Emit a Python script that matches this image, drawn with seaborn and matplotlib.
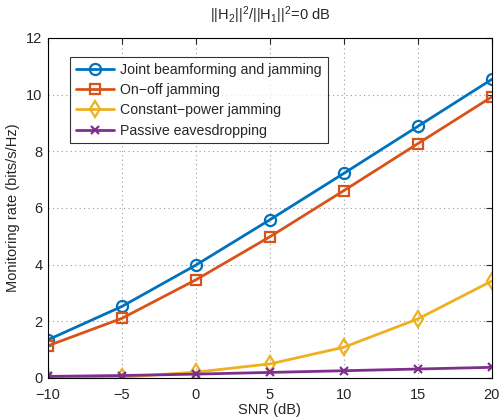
import matplotlib
matplotlib.use("Agg")
import matplotlib.pyplot as plt
import seaborn as sns
import pandas as pd

sns.set_style("white")
plt.rcParams["font.family"] = ["Liberation Sans", "DejaVu Sans"]
plt.rcParams["mathtext.fontset"] = "custom"
plt.rcParams["mathtext.rm"] = "Liberation Sans"
plt.rcParams["mathtext.it"] = "Liberation Sans"

snr = [-10, -5, 0, 5, 10, 15, 20]
joint = [1.34, 2.52, 3.98, 5.58, 7.22, 8.88, 10.54]
onoff = [1.13, 2.1, 3.46, 4.98, 6.61, 8.27, 9.92]
const_power = [0.01, 0.02, 0.2, 0.49, 1.08, 2.08, 3.42]
passive = [0.05, 0.08, 0.13, 0.19, 0.25, 0.31, 0.37]

names = ["Joint beamforming and jamming", "On\u2212off jamming",
         "Constant\u2212power jamming", "Passive eavesdropping"]
series = [joint, onoff, const_power, passive]
colors = ["#0072BD", "#D95319", "#EDB120", "#7E2F8E"]
markers = ["o", "s", "d", "x"]
msizes = [8, 7, 8, 6]

fig = plt.figure(figsize=(5.04, 4.17), dpi=100)
ax = fig.add_axes([0.095, 0.094, 0.881, 0.815])

for name, vals, c, m, ms in zip(names, series, colors, markers, msizes):
    df = pd.DataFrame({"snr": snr, "rate": vals})
    sns.lineplot(data=df, x="snr", y="rate", ax=ax, color=c, marker=m,
                 markersize=ms, mfc="none", mec=c, mew=1.6, lw=2, label=name)

ax.set_xlim(-10, 20)
ax.set_ylim(0, 12)
ax.set_xticks(snr)
ax.set_xticklabels([str(v).replace("-", "\u2212") for v in snr])
ax.set_yticks(range(0, 13, 2))
ax.grid(True, linestyle=(0, (1, 3)), color="#999999", linewidth=0.8)
ax.tick_params(axis="both", direction="in", top=True, right=True,
               labelsize=10.5, length=4, width=0.8)
ax.tick_params(axis="x", pad=7)
ax.tick_params(axis="y", pad=4)
for s in ax.spines.values():
    s.set_color("black")
    s.set_linewidth(0.8)
ax.set_xlabel("SNR (dB)", fontsize=10.5, labelpad=1)
ax.set_ylabel("Monitoring rate (bits/s/Hz)", fontsize=10.5, labelpad=4)
ax.set_title(r"$||\mathrm{H}_2||^2/||\mathrm{H}_1||^2$=0 dB", fontsize=10.5, pad=13)

leg = ax.legend(loc="upper left", bbox_to_anchor=(0.05, 0.944), borderaxespad=0,
                fontsize=10.2, frameon=True, fancybox=False, edgecolor="black",
                handlelength=2.7, borderpad=0.4, labelspacing=0.45, handletextpad=0.45)
leg.get_frame().set_linewidth(0.8)

fig.savefig("out.png", dpi=100)
